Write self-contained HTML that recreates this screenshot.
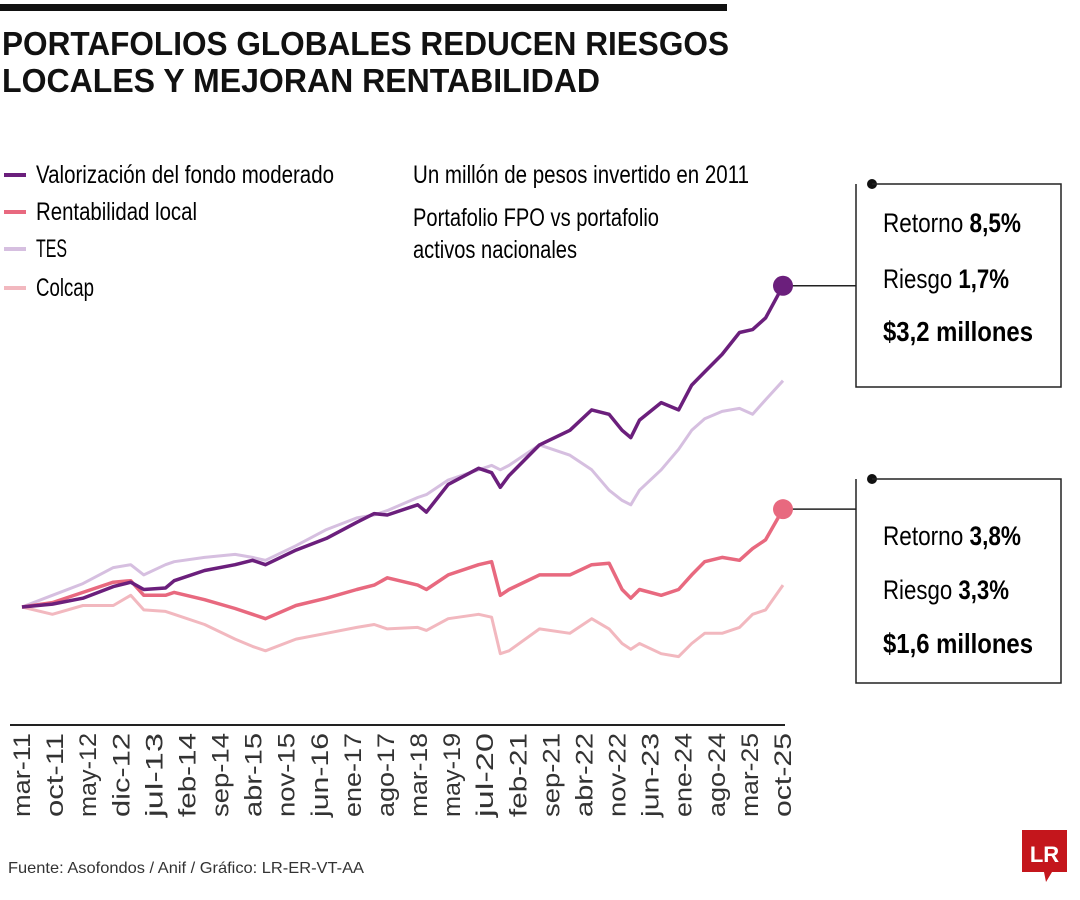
<!DOCTYPE html>
<html><head><meta charset="utf-8">
<style>
body{margin:0;background:#fff;}
#c{position:relative;width:1080px;height:900px;overflow:hidden;font-family:"Liberation Sans",sans-serif;color:#222;}
svg text{font-family:"Liberation Sans",sans-serif;}
</style></head><body>
<div id="c">
<svg id="s" width="1080" height="900">
<rect x="0" y="4" width="727" height="7" fill="#111"/>
<text x="2" y="55" font-size="33" font-weight="bold" fill="#111" textLength="727" lengthAdjust="spacingAndGlyphs">PORTAFOLIOS GLOBALES REDUCEN RIESGOS</text>
<text x="2" y="92" font-size="33" font-weight="bold" fill="#111" textLength="598" lengthAdjust="spacingAndGlyphs">LOCALES Y MEJORAN RENTABILIDAD</text>
<g>
<line x1="4" y1="175" x2="26" y2="175" stroke="#6b1f7c" stroke-width="4"/><text x="36" y="183" font-size="25" textLength="298" lengthAdjust="spacingAndGlyphs">Valorización del fondo moderado</text>
<line x1="4" y1="212" x2="26" y2="212" stroke="#e8697f" stroke-width="4"/><text x="36" y="220" font-size="25" textLength="161" lengthAdjust="spacingAndGlyphs">Rentabilidad local</text>
<line x1="4" y1="249" x2="26" y2="249" stroke="#d6bfe0" stroke-width="4"/><text x="36" y="257" font-size="25" textLength="31" lengthAdjust="spacingAndGlyphs">TES</text>
<line x1="4" y1="288" x2="26" y2="288" stroke="#f2b8bf" stroke-width="4"/><text x="36" y="296" font-size="25" textLength="58" lengthAdjust="spacingAndGlyphs">Colcap</text>
</g>
<text x="413" y="183" font-size="25" textLength="336" lengthAdjust="spacingAndGlyphs">Un millón de pesos invertido en 2011</text>
<text x="413" y="226" font-size="25" textLength="246" lengthAdjust="spacingAndGlyphs">Portafolio FPO vs portafolio</text>
<text x="413" y="258" font-size="25" textLength="164" lengthAdjust="spacingAndGlyphs">activos nacionales</text>
<g>
<circle cx="872" cy="184" r="5" fill="#111"/>
<polyline points="872,184 1061,184 1061,387 856,387 856,184" fill="none" stroke="#222" stroke-width="1.5"/>
<text x="883" y="232" font-size="27" textLength="138" lengthAdjust="spacingAndGlyphs">Retorno <tspan font-weight="bold">8,5%</tspan></text>
<text x="883" y="288" font-size="27" textLength="126" lengthAdjust="spacingAndGlyphs">Riesgo <tspan font-weight="bold">1,7%</tspan></text>
<text x="883" y="341" font-size="28" font-weight="bold" textLength="150" lengthAdjust="spacingAndGlyphs">$3,2 millones</text>
</g>
<g>
<circle cx="872" cy="479" r="5" fill="#111"/>
<polyline points="872,479 1061,479 1061,683 856,683 856,479" fill="none" stroke="#222" stroke-width="1.5"/>
<text x="883" y="545" font-size="27" textLength="138" lengthAdjust="spacingAndGlyphs">Retorno <tspan font-weight="bold">3,8%</tspan></text>
<text x="883" y="599" font-size="27" textLength="126" lengthAdjust="spacingAndGlyphs">Riesgo <tspan font-weight="bold">3,3%</tspan></text>
<text x="883" y="653" font-size="28" font-weight="bold" textLength="150" lengthAdjust="spacingAndGlyphs">$1,6 millones</text>
</g>
<line x1="10" y1="725" x2="785" y2="725" stroke="#222" stroke-width="2"/>
<g id="plot"></g>
<g id="ticks"></g>
<text x="8" y="873" font-size="16" fill="#333" textLength="356" lengthAdjust="spacingAndGlyphs">Fuente: Asofondos / Anif / Gráfico: LR-ER-VT-AA</text>
<g>
<path d="M1022,830 H1067 V872 H1052 L1046,882 L1044,872 H1022 Z" fill="#c4161c"/>
<text x="1044.5" y="862" font-size="22" font-weight="bold" fill="#fff" text-anchor="middle" font-family="Liberation Serif">LR</text>
</g>
</svg>
<script>
const months=[0,7,14,21,25,28,33,35,42,49,53,56,63,70,77,81,84,91,93,98,105,108,110,112,119,126,131,135,138,140,142,147,151,154,157,161,165,168,171,175];
const fondo=[1.00,1.02,1.06,1.14,1.17,1.12,1.13,1.18,1.25,1.29,1.32,1.29,1.39,1.47,1.58,1.64,1.63,1.70,1.65,1.84,1.95,1.92,1.82,1.90,2.11,2.21,2.35,2.32,2.21,2.16,2.28,2.40,2.35,2.52,2.61,2.73,2.88,2.90,2.98,3.20];
const tes=[1.00,1.08,1.16,1.27,1.29,1.22,1.29,1.31,1.34,1.36,1.34,1.32,1.42,1.53,1.61,1.63,1.66,1.75,1.77,1.87,1.94,1.97,1.94,1.97,2.11,2.04,1.94,1.80,1.73,1.70,1.80,1.94,2.08,2.21,2.29,2.34,2.36,2.32,2.42,2.55];
const local=[1.00,1.03,1.10,1.17,1.18,1.08,1.08,1.10,1.05,0.99,0.95,0.92,1.01,1.06,1.12,1.15,1.20,1.15,1.12,1.22,1.29,1.31,1.08,1.12,1.22,1.22,1.29,1.30,1.12,1.06,1.12,1.08,1.12,1.22,1.31,1.34,1.32,1.40,1.46,1.67];
const colcap=[1.00,0.95,1.01,1.01,1.08,0.98,0.97,0.95,0.88,0.78,0.73,0.70,0.78,0.82,0.86,0.88,0.85,0.86,0.84,0.92,0.95,0.93,0.68,0.70,0.85,0.82,0.92,0.85,0.75,0.71,0.75,0.68,0.66,0.75,0.82,0.82,0.86,0.95,0.98,1.15];
const tickLabels=["mar-11","oct-11","may-12","dic-12","jul-13","feb-14","sep-14","abr-15","nov-15","jun-16","ene-17","ago-17","mar-18","may-19","jul-20","feb-21","sep-21","abr-22","nov-22","jun-23","ene-24","ago-24","mar-25","oct-25"];
const NS="http://www.w3.org/2000/svg";
function xs(m){return 22+m*(761/175);}
function ys(v){return 607-(v-1)*146;}
const plot=document.getElementById('plot');
function line(vals,color,name,w){
  const p=document.createElementNS(NS,'polyline');
  p.setAttribute('points',vals.map((v,i)=>xs(months[i]).toFixed(1)+','+ys(v).toFixed(1)).join(' '));
  p.setAttribute('fill','none');p.setAttribute('stroke',color);p.setAttribute('stroke-width',w);
  p.setAttribute('stroke-linejoin','round');
  
  
  plot.appendChild(p);
}
line(colcap,'#f2b8bf','colcap-line',3);
line(tes,'#d6bfe0','tes-line',3);
line(local,'#e8697f','rentabilidad-local-line',3.5);
line(fondo,'#6b1f7c','fondo-moderado-line',3.5);
function endDot(vals,color,name){
  const n=vals.length-1,x=xs(months[n]),y=ys(vals[n]);
  const l=document.createElementNS(NS,'line');
  l.setAttribute('x1',x);l.setAttribute('y1',y);l.setAttribute('x2',856);l.setAttribute('y2',y);
  l.setAttribute('stroke','#222');l.setAttribute('stroke-width','1.5');
  
  
  plot.appendChild(l);
  const c=document.createElementNS(NS,'circle');
  c.setAttribute('cx',x);c.setAttribute('cy',y);c.setAttribute('r',10);c.setAttribute('fill',color);
  
  
  plot.appendChild(c);
}
endDot(fondo,'#6b1f7c','fondo');
endDot(local,'#e8697f','local');
const tg=document.getElementById('ticks');
const n=tickLabels.length;
tickLabels.forEach((t,i)=>{
  const x=22+i*(761/(n-1))+8;
  const tx=document.createElementNS(NS,'text');
  tx.setAttribute('transform','translate('+x.toFixed(1)+',733) rotate(-90)');
  tx.setAttribute('text-anchor','end');tx.setAttribute('font-size','24');tx.setAttribute('fill','#333');
  tx.setAttribute('textLength',(t.length*14).toFixed(0));
  tx.setAttribute('lengthAdjust','spacingAndGlyphs');
  tx.textContent=t;
  
  
  tg.appendChild(tx);
});
</script>
</div>
</body></html>
